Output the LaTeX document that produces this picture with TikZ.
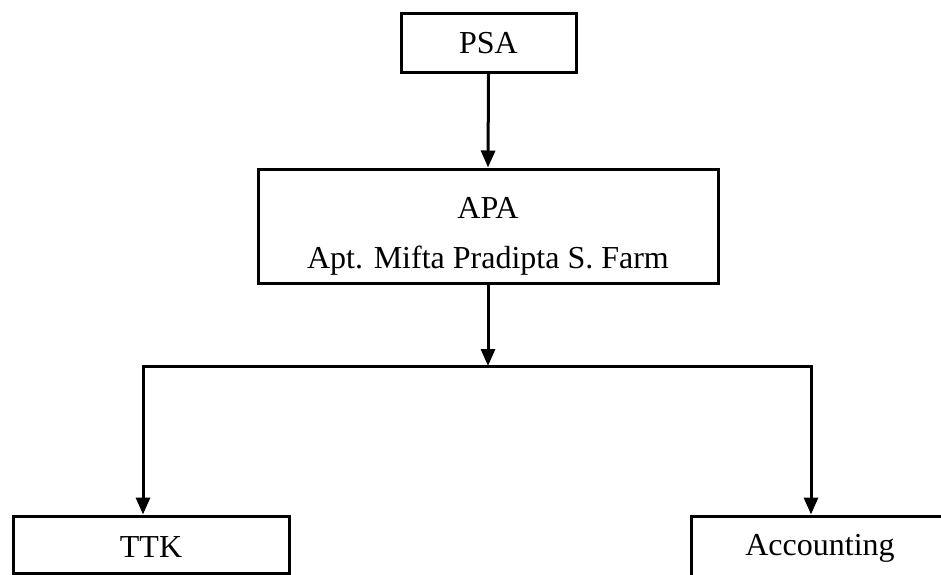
\documentclass[tikz,border=0pt]{standalone}
\usepackage{fontspec}
\setmainfont{Liberation Serif}
\usetikzlibrary{arrows.meta}
\begin{document}
\begin{tikzpicture}[x=1pt,y=-1pt,
  box/.style={draw,line width=3pt,inner sep=0pt},
  lbl/.style={font=\fontsize{32}{38}\selectfont,inner sep=0pt,anchor=base},
  conn/.style={line width=3pt,-{Triangle[width=14pt,length=17pt]}},
  plain/.style={line width=3pt}]
\useasboundingbox (0,0) rectangle (941,574);
\clip (0,0) rectangle (941,574);
\node[box,minimum width=175pt,minimum height=59pt] (psa) at (488.5,42.5) {};
\node[lbl] (psat) at (488.5,53) {PSA};
\node[box,minimum width=460pt,minimum height=114pt] (apa) at (488,226) {};
\node[lbl] (apat1) at (488,218) {APA};
\node[lbl] (apat2) at (488,268) {Apt. Mifta Pradipta S. Farm};
\node[box,minimum width=276pt,minimum height=57pt] (ttk) at (151,544.5) {};
\node[lbl] (ttkt) at (151,557) {TTK};
\node[box,minimum width=258pt,minimum height=70pt] (acc) at (820,551) {};
\node[lbl] (acct) at (820,555) {Accounting};
\coordinate (junc) at (488,366);
\coordinate (bl) at (143,366);
\coordinate (br) at (811,366);
\draw[conn] (psa.south) -- (apa.north);
\draw[conn] (apa.south) -- (junc);
\draw[plain,line cap=rect] (bl) -- (br);
\draw[conn] (bl) -- (bl |- ttk.north);
\draw[conn] (br) -- (br |- acc.north);
\end{tikzpicture}
\end{document}
